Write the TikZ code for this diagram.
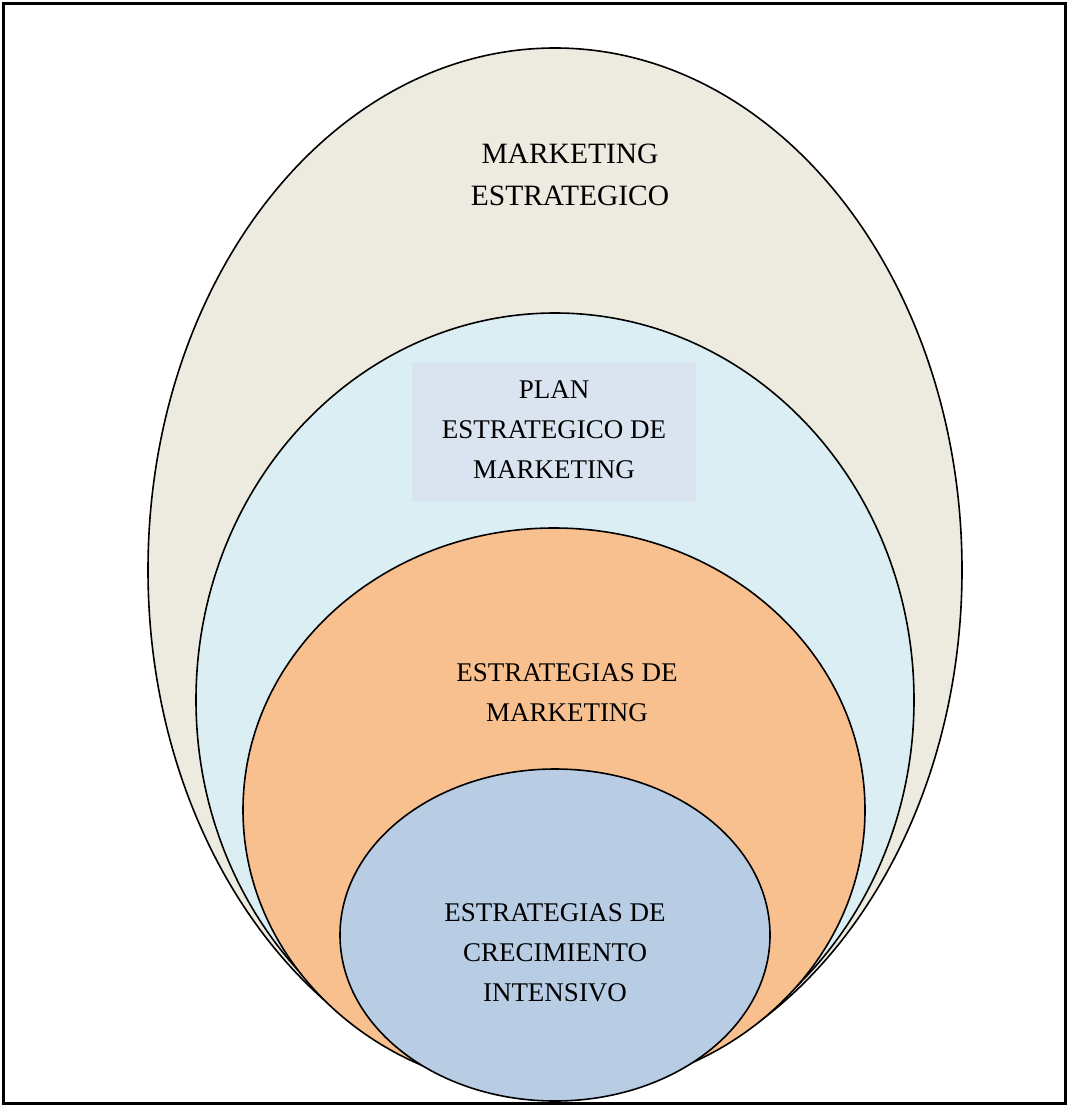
\documentclass[tikz,border=0pt]{standalone}
\usepackage{fontspec}
\setmainfont{Liberation Serif}
\definecolor{beige}{HTML}{EDEBE0}
\definecolor{lblue}{HTML}{DBEEF4}
\definecolor{orng}{HTML}{F8BF8F}
\definecolor{bblue}{HTML}{B8CCE4}
\definecolor{rectc}{HTML}{DAE4F0}
\begin{document}
\begin{tikzpicture}[x=1pt,y=-1pt,
  ring/.style={draw=black,line width=1.6pt},
  lbl/.style={align=center,font=\fontsize{27}{40}\selectfont,text=black,inner sep=0pt}]
\useasboundingbox (0,0) rectangle (1068,1105);
\node[draw=black,line width=2.2pt,minimum width=1062pt,minimum height=1100pt,inner sep=0pt] (frame) at (534.5,553.5) {};
\draw[ring,fill=beige] (555,570) ellipse [x radius=407,y radius=522];
\draw[ring,fill=lblue] (555,700) ellipse [x radius=359,y radius=387];
\draw[ring,fill=orng] (554,810) ellipse [x radius=311,y radius=282];
\draw[ring,fill=bblue] (555,935) ellipse [x radius=215,y radius=166];
\node[fill=rectc,minimum width=284pt,minimum height=140pt,inner sep=0pt] (rect) at (554,432) {};
\node[lbl,font=\fontsize{29.5}{42}\selectfont] (me) at (570,175) {MARKETING\\ESTRATEGICO};
\node[lbl] (pe) at (554,430) {PLAN\\ESTRATEGICO DE\\MARKETING};
\node[lbl] (em) at (567,693) {ESTRATEGIAS DE\\MARKETING};
\node[lbl] (ec) at (555,953) {ESTRATEGIAS DE\\CRECIMIENTO\\INTENSIVO};
\end{tikzpicture}
\end{document}
